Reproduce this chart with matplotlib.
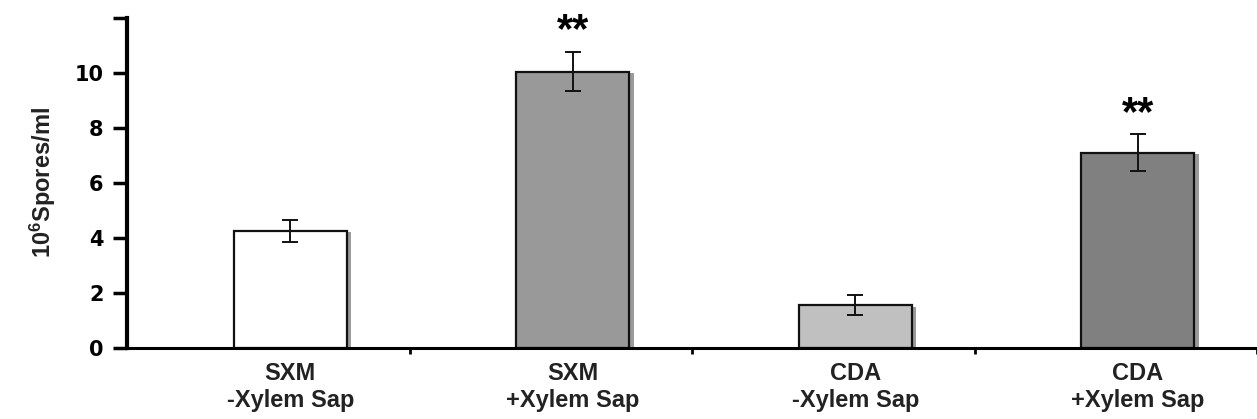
import numpy as np
import matplotlib.pyplot as plt

plt.rcParams['font.family'] = ['Liberation Sans', 'DejaVu Sans']

# data
labels = ['SXM\n-Xylem Sap', 'SXM\n+Xylem Sap', 'CDA\n-Xylem Sap', 'CDA\n+Xylem Sap']
values = [4.27, 10.05, 1.55, 7.1]
errors = [0.4, 0.72, 0.36, 0.67]
signif = ['', '**', '', '**']
colors = ['#ffffff', '#999999', '#c0c0c0', '#808080']

fig = plt.figure(figsize=(12.57, 4.19), dpi=100)
ax = fig.add_axes([127 / 1257, 71 / 419, 1130 / 1257, 330 / 419])

x = np.arange(len(values))
pos = x + 0.078
width = 0.40

# drop shadow
ax.bar(pos + 0.016, np.array(values) - 0.06, width=width, color='#9a9a9a',
       edgecolor='none', zorder=1)
ax.bar(pos, values, width=width, color=colors, edgecolor='#111111',
       linewidth=1.6, zorder=2)
ax.errorbar(pos, values, yerr=errors, fmt='none', ecolor='#111111',
            elinewidth=1.4, capsize=6, capthick=1.4, zorder=3)

for p, v, e, s in zip(pos, values, errors, signif):
    if s:
        ax.text(p, v + e + 0.75, s, ha='center', va='center',
                fontsize=30, fontweight='bold')

ax.set_xlim(-0.5, 3.48)
ax.set_ylim(0, 12)

ax.set_xticks(x + 0.5, minor=False)
ax.set_xticklabels([])
ax.tick_params(axis='x', which='major', length=4, width=2, direction='out')
ax.set_xticks(pos, minor=True)
ax.set_xticklabels(labels, minor=True, fontsize=17, fontweight='bold',
                   color='#222222', linespacing=1.25)
ax.tick_params(axis='x', which='minor', length=0, pad=10)

ax.set_yticks(np.arange(0, 13, 2))
ax.set_yticklabels(['0', '2', '4', '6', '8', '10', ''], fontsize=15,
                   fontweight='bold', family='DejaVu Sans')
ax.tick_params(axis='y', length=10, width=2.5, direction='out', pad=7)

ax.set_ylabel(r'$\mathregular{10^6}$Spores/ml', fontsize=17,
              fontweight='bold', labelpad=12, color='#222222')

for side in ['top', 'right']:
    ax.spines[side].set_visible(False)
ax.spines['left'].set_linewidth(3)
ax.spines['bottom'].set_linewidth(2.2)

fig.savefig('out.png', dpi=100)
